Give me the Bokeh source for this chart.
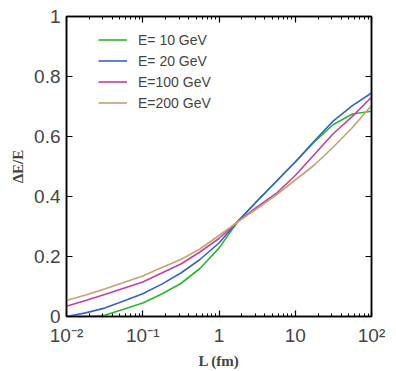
from bokeh.plotting import figure
from bokeh.models import (Range1d, LogAxis, LinearAxis, FixedTicker, LogTicker,
                          Legend, LegendItem)
from bokeh.embed import file_html
from bokeh.resources import INLINE

# ---------------- data ----------------
log_L = [-2, -1.75, -1.5, -1.25, -1, -0.75, -0.5, -0.25, 0,
         0.25, 0.5, 0.75, 1, 1.25, 1.5, 1.75, 2]
L = [10 ** e for e in log_L]

dE_10 = [0.0, 0.0, 0.004, 0.024, 0.045, 0.075, 0.11, 0.16, 0.228,
         0.318, 0.385, 0.45, 0.515, 0.582, 0.64, 0.675, 0.684]
dE_20 = [0.0, 0.012, 0.028, 0.052, 0.076, 0.108, 0.145, 0.19, 0.245,
         0.318, 0.385, 0.45, 0.515, 0.585, 0.652, 0.703, 0.745]
dE_100 = [0.034, 0.053, 0.073, 0.094, 0.115, 0.145, 0.175, 0.215, 0.26,
          0.317, 0.365, 0.41, 0.47, 0.54, 0.61, 0.667, 0.731]
dE_200 = [0.053, 0.072, 0.092, 0.113, 0.135, 0.163, 0.19, 0.225, 0.27,
          0.316, 0.36, 0.405, 0.455, 0.505, 0.565, 0.63, 0.703]

series_labels = ["E= 10 GeV", "E= 20 GeV", "E=100 GeV", "E=200 GeV"]
series_values = [dE_10, dE_20, dE_100, dE_200]
series_colors = ["#2bb52b", "#3563c9", "#c4409e", "#c6a272"]

y_ticks = [0, 0.2, 0.4, 0.6, 0.8, 1]
y_tick_labels = ["0", "0.2", "0.4", "0.6", "0.8", "1"]
x_ticks = [0.01, 0.1, 1, 10, 100]
x_tick_labels = ["10\u207b\u00b2", "10\u207b\u00b9", "1", "10", "10\u00b2"]

x_title = "L (fm)"
y_title = "\u0394E/E"

# ---------------- figure ----------------
SANS = "Liberation Sans"
SERIF = "Liberation Serif"

p = figure(width=396, height=371, output_backend="svg", toolbar_location=None,
           x_axis_type="log", x_range=Range1d(0.01, 100), y_range=Range1d(0, 1),
           min_border_left=66, min_border_right=25, min_border_top=16,
           min_border_bottom=55)
p.background_fill_color = "white"
p.border_fill_color = "white"
p.outline_line_color = "black"
p.outline_line_width = 1.5
p.xgrid.visible = False
p.ygrid.visible = False

renderers = []
for vals, col in zip(series_values, series_colors):
    r = p.line(L, vals, line_color=col, line_width=1.6)
    renderers.append(r)


def style_hidden_labels(ax):
    ax.major_label_text_color = None
    ax.major_label_text_font_size = "8px"
    ax.major_label_standoff = 0


# bottom axis
xa = p.xaxis[0]
xa.ticker = LogTicker(num_minor_ticks=10)
xa.major_label_overrides = {t: s for t, s in zip(x_ticks, x_tick_labels)}
xa.axis_line_width = 1.5
xa.major_tick_in = 6
xa.major_tick_out = 0
xa.minor_tick_in = 3
xa.minor_tick_out = 0
xa.major_tick_line_width = 1.2
xa.major_label_text_font = SANS
xa.major_label_text_font_size = "19px"
xa.major_label_standoff = 8
xa.axis_label = x_title
xa.axis_label_text_font = SERIF
xa.axis_label_text_font_style = "bold"
xa.axis_label_text_font_size = "15px"
xa.axis_label_standoff = 4

# left axis
ya = p.yaxis[0]
ya.ticker = FixedTicker(ticks=y_ticks)
ya.major_label_overrides = {t: s for t, s in zip(y_ticks, y_tick_labels)}
ya.axis_line_width = 1.5
ya.major_tick_in = 6
ya.major_tick_out = 0
ya.major_tick_line_width = 1.2
ya.minor_tick_line_color = None
ya.major_label_text_font = SANS
ya.major_label_text_font_size = "19px"
ya.major_label_standoff = 6
ya.axis_label = y_title
ya.axis_label_text_font = SERIF
ya.axis_label_text_font_style = "bold"
ya.axis_label_text_font_size = "15px"
ya.axis_label_standoff = 5

# top axis
ta = LogAxis(ticker=LogTicker(num_minor_ticks=10))
ta.axis_line_width = 1.5
ta.major_tick_in = 6
ta.major_tick_out = 0
ta.minor_tick_in = 3
ta.minor_tick_out = 0
ta.major_tick_line_width = 1.2
style_hidden_labels(ta)
p.add_layout(ta, "above")

# right axis
ra = LinearAxis(ticker=FixedTicker(ticks=y_ticks))
ra.axis_line_width = 1.5
ra.major_tick_in = 6
ra.major_tick_out = 0
ra.major_tick_line_width = 1.2
ra.minor_tick_line_color = None
style_hidden_labels(ra)
p.add_layout(ra, "right")

# legend
legend = Legend(items=[LegendItem(label=lab, renderers=[r])
                       for lab, r in zip(series_labels, renderers)],
                location=(32, 203), padding=10, margin=0, spacing=0,
                glyph_width=29, glyph_height=21, label_height=21,
                label_standoff=11, label_text_font=SANS,
                label_text_font_size="14px", border_line_color=None,
                background_fill_alpha=0)
p.add_layout(legend)

open("out.html", "w").write(file_html(p, INLINE))
